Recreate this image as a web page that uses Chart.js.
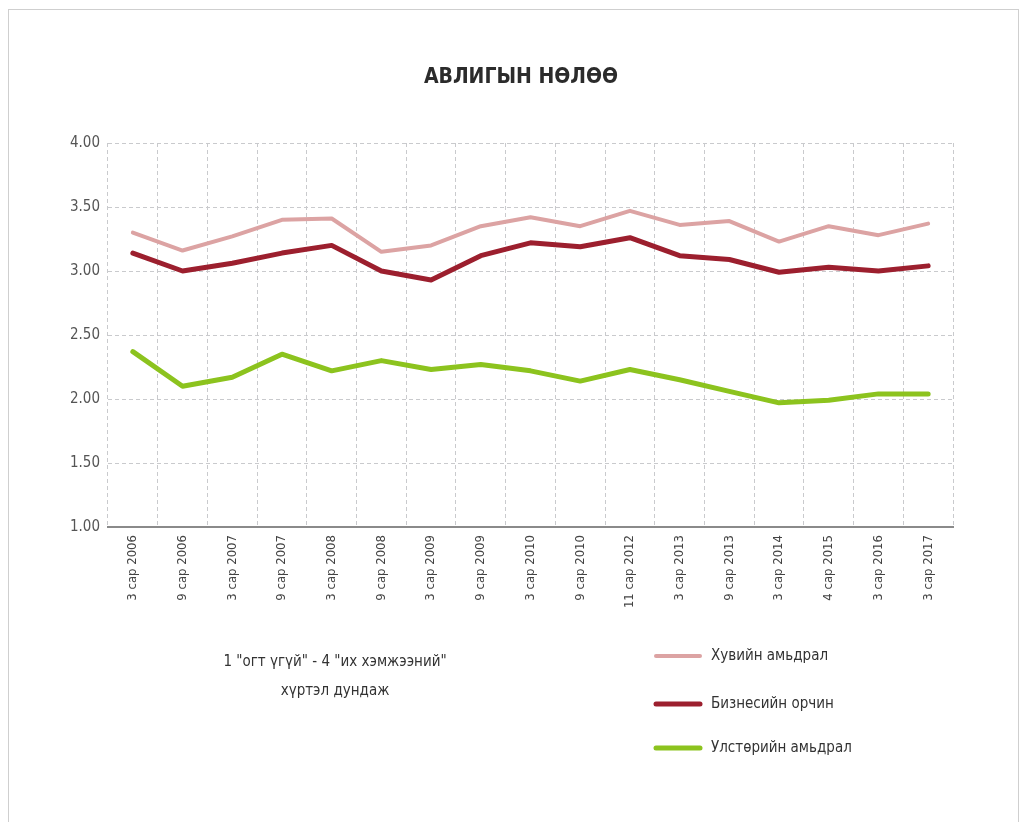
<!DOCTYPE html>
<html>
<head>
<meta charset="utf-8">
<script src="https://cdn.jsdelivr.net/npm/chart.js@4"></script>
<style>
html,body{margin:0;padding:0;background:#fff;}
#wrap{position:relative;width:1028px;height:822px;}
#frame{position:absolute;left:8px;top:9px;width:1011px;height:820px;border:1px solid #cfcfcf;box-sizing:border-box;}
canvas{position:absolute;left:0;top:0;}
</style>
</head>
<body>
<div id="wrap">
<div id="frame"></div>
<canvas id="c" width="1028" height="822"></canvas>
</div>
<script>
const title = "АВЛИГЫН НӨЛӨӨ";
const categories = ["3 сар 2006","9 сар 2006","3 сар 2007","9 сар 2007","3 сар 2008","9 сар 2008","3 сар 2009","9 сар 2009","3 сар 2010","9 сар 2010","11 сар 2012","3 сар 2013","9 сар 2013","3 сар 2014","4 сар 2015","3 сар 2016","3 сар 2017"];
const seriesNames = ["Хувийн амьдрал","Бизнесийн орчин","Улстөрийн амьдрал"];
const privateLife = [3.30,3.16,3.27,3.40,3.41,3.15,3.20,3.35,3.42,3.35,3.47,3.36,3.39,3.23,3.35,3.28,3.37];
const business    = [3.14,3.00,3.06,3.14,3.20,3.00,2.93,3.12,3.22,3.19,3.26,3.12,3.09,2.99,3.03,3.00,3.04];
const politics    = [2.37,2.10,2.17,2.35,2.22,2.30,2.23,2.27,2.22,2.14,2.23,2.15,2.06,1.97,1.99,2.04,2.04];
const yTicks = [1.00,1.50,2.00,2.50,3.00,3.50,4.00];
const noteLines = ['1 "огт үгүй" - 4 "их хэмжээний"', 'хүртэл дундаж'];

const FONT = "'Liberation Sans Narrow','DejaVu Sans Condensed','Roboto',sans-serif";
const colors = ["#dca3a3","#9c1f2e","#8cc31e"];
const widths = [4,5,5];

const overlay = {
  id:'overlay',
  afterDraw(chart){
    const ctx = chart.ctx;
    ctx.save();
    ctx.fillStyle = "#2b2b2b";
    ctx.font = "bold 21px " + FONT;
    ctx.textAlign = "center";
    ctx.textBaseline = "middle";
    ctx.fillText(title, 521, 78);
    ctx.fillStyle = "#333";
    ctx.font = "15px " + FONT;
    ctx.fillText(noteLines[0], 335, 662);
    ctx.fillText(noteLines[1], 335, 691);
    const ys = [656,704,748];
    chart.data.datasets.forEach((ds,i)=>{
      ctx.strokeStyle = ds.borderColor;
      ctx.lineWidth = ds.borderWidth;
      ctx.lineCap = "round";
      ctx.beginPath();
      ctx.moveTo(656, ys[i]);
      ctx.lineTo(700, ys[i]);
      ctx.stroke();
      ctx.fillStyle = "#333";
      ctx.textAlign = "left";
      ctx.font = "15px " + FONT;
      ctx.fillText(ds.label, 711, ys[i]);
    });
    ctx.restore();
  }
};

new Chart(document.getElementById('c'), {
  type:'line',
  data:{
    labels: categories,
    datasets: [privateLife,business,politics].map((d,i)=>({
      label: seriesNames[i],
      data: d,
      borderColor: colors[i],
      backgroundColor: colors[i],
      borderWidth: widths[i],
      pointRadius: 0,
      tension: 0,
      fill:false,
      borderJoinStyle:'round',
      borderCapStyle:'round'
    }))
  },
  options:{
    responsive:false,
    animation:false,
    events:[],
    layout:{padding:{left:8,top:143,right:75,bottom:205}},
    plugins:{legend:{display:false},title:{display:false},tooltip:{enabled:false}},
    scales:{
      x:{
        offset:true,
        grid:{offset:true,color:"#c9cacd",lineWidth:1,drawTicks:false},
        border:{display:true,color:"#8a8a8a",width:2,dash:[4,3]},
        ticks:{minRotation:90,maxRotation:90,autoSkip:false,padding:8,color:"#444",font:{family:FONT,size:13}},
        afterFit(s){s.height=90;}
      },
      y:{
        min:1,max:4,
        afterBuildTicks(s){s.ticks = yTicks.map(v=>({value:v}));},
        grid:{color:"#c9cacd",lineWidth:1,drawTicks:false},
        border:{display:false,dash:[4,3]},
        ticks:{padding:8,color:"#555",font:{family:FONT,size:15},callback:v=>Number(v).toFixed(2)},
        afterFit(s){s.width=100;}
      }
    }
  },
  plugins:[overlay]
});
</script>
</body>
</html>
